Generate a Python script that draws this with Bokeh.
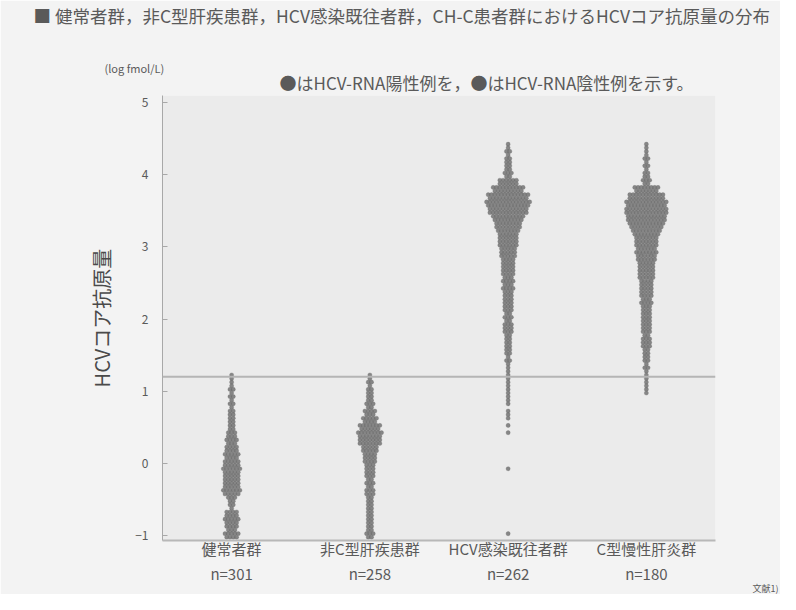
import numpy as np
from bokeh.plotting import figure
from bokeh.models import Span, Title, FixedTicker
from bokeh.embed import file_html
from bokeh.resources import INLINE

# ---------------- data ----------------
title_text = "■ 健常者群，非C型肝疾患群，HCV感染既往者群，CH-C患者群におけるHCVコア抗原量の分布"
note_text = "●はHCV-RNA陽性例を，●はHCV-RNA陰性例を示す。"
unit_text = "(log fmol/L)"
y_title = "HCVコア抗原量"
groups = ["健常者群", "非C型肝疾患群", "HCV感染既往者群", "C型慢性肝炎群"]
group_n = ["n=301", "n=258", "n=262", "n=180"]
y_ticks = [-1, 0, 1, 2, 3, 4, 5]
cutoff = 1.2
source_note = "文献1)"

# log value bins (0.1 steps) and number of dots read in each bin
g1_bins = [1.2, 1.1, 1.0, 0.9, 0.8, 0.7, 0.6, 0.5, 0.4, 0.3, 0.2, 0.1, 0.0,
           -0.1, -0.2, -0.3, -0.4, -0.5, -0.6, -0.7, -0.8, -0.9, -1.0]
g1_counts = [2, 2, 3, 3, 3, 4, 4, 4, 6, 7, 8, 9, 10,
             11, 10, 10, 11, 5, 3, 8, 9, 7, 9]

g2_bins = [1.2, 1.1, 1.0, 0.9, 0.8, 0.7, 0.6, 0.5, 0.4, 0.3, 0.2, 0.1, 0.0,
           -0.1, -0.2, -0.3, -0.4, -0.5, -0.6, -0.7, -0.8, -0.9, -1.0]
g2_counts = [2, 3, 4, 4, 5, 7, 9, 13, 15, 14, 10, 8, 7,
             6, 5, 5, 6, 4, 4, 4, 4, 4, 5]

g3_bins = [4.4, 4.3, 4.2, 4.1, 4.0, 3.9, 3.8, 3.7, 3.6, 3.5, 3.4, 3.3, 3.2, 3.1,
           3.0, 2.9, 2.8, 2.7, 2.6, 2.5, 2.4, 2.3, 2.2, 2.1, 2.0, 1.9, 1.8, 1.7,
           1.6, 1.5, 1.4, 1.3, 1.2, 1.1, 1.0, 0.9, 0.8, 0.7, 0.6, 0.5, 0.4, -0.1, -1.0]
g3_counts = [2, 3, 4, 4, 5, 12, 19, 25, 27, 24, 19, 16, 13, 12,
             11, 10, 8, 8, 7, 7, 7, 6, 6, 5, 5, 6, 5, 4,
             4, 3, 3, 2, 2, 2, 2, 2, 1, 2, 1, 1, 1, 1, 1]

g4_bins = [4.4, 4.3, 4.2, 4.1, 4.0, 3.9, 3.8, 3.7, 3.6, 3.5, 3.4, 3.3, 3.2, 3.1,
           3.0, 2.9, 2.8, 2.7, 2.6, 2.5, 2.4, 2.3, 2.2, 2.1, 2.0, 1.9, 1.8, 1.7,
           1.6, 1.5, 1.4, 1.3, 1.2, 1.1, 1.0]
g4_counts = [2, 2, 3, 3, 4, 5, 15, 22, 25, 26, 24, 21, 17, 14,
             13, 13, 11, 10, 10, 8, 8, 7, 7, 6, 6, 6, 5, 6,
             5, 4, 3, 3, 2, 2, 2]

# ---------------- layout ----------------
X0, X1, Y0, Y1 = 0.0, 4.0, -1.07, 5.1


def swarm(center, bins, counts, dx=0.024, dy=0.025):
    xs, ys = [], []
    for b, n in zip(bins, counts):
        rows = [(n + 1) // 2, n // 2]
        for r, k in enumerate(rows):
            yy = b + dy if r == 0 else b - dy
            for i in range(k):
                xs.append(center + (i - (k - 1) / 2) * dx)
                ys.append(yy)
    return xs, ys


centers = [0.5, 1.5, 2.5, 3.5]
all_bins = [g1_bins, g2_bins, g3_bins, g4_bins]
all_counts = [g1_counts, g2_counts, g3_counts, g4_counts]

FONT = "Noto Sans CJK JP"
TXT = "#5a5a5a"
BORDER = "#f3f3f3"

p = figure(width=780, height=594, x_range=(X0, X1), y_range=(Y0, Y1),
           output_backend="svg", toolbar_location=None,
           min_border_left=162, min_border_right=65,
           min_border_top=95, min_border_bottom=54)
p.background_fill_color = "#ebebeb"
p.border_fill_color = BORDER
p.outline_line_color = None
p.grid.visible = False

# titles stacked above the plot (first added = nearest the plot)
p.add_layout(Title(text=note_text, align="left", offset=117, standoff=1,
                   text_font=FONT, text_font_size="17px", text_color=TXT,
                   text_font_style="normal"), "above")
p.add_layout(Title(text=unit_text, align="left", offset=-58, standoff=-16,
                   text_font=FONT, text_font_size="11px", text_color=TXT,
                   text_font_style="normal"), "above")
# spacer row (drawn in the border colour) between the unit row and the main title
p.add_layout(Title(text=".", align="left", standoff=34, text_color=BORDER,
                   text_font=FONT, text_font_size="2px"), "above")
p.add_layout(Title(text=title_text, align="left", offset=-129, standoff=0,
                   text_font=FONT, text_font_size="17.5px", text_color=TXT,
                   text_font_style="normal"), "above")
p.add_layout(Title(text=source_note, align="right", offset=-63, standoff=-10,
                   vertical_align="top",
                   text_font=FONT, text_font_size="9px", text_color=TXT,
                   text_font_style="normal"), "below")

# y axis
p.yaxis.ticker = FixedTicker(ticks=y_ticks)
p.yaxis.major_tick_in = 5
p.yaxis.major_tick_out = 0
p.yaxis.minor_tick_line_color = None
p.yaxis.axis_line_color = "#a8a8a8"
p.yaxis.major_tick_line_color = "#a8a8a8"
p.yaxis.major_label_text_font = FONT
p.yaxis.major_label_text_font_size = "12px"
p.yaxis.major_label_text_color = TXT
p.yaxis.major_label_standoff = 14
p.yaxis.axis_label = y_title
p.yaxis.axis_label_text_font = FONT
p.yaxis.axis_label_text_font_size = "20px"
p.yaxis.axis_label_text_font_style = "normal"
p.yaxis.axis_label_text_color = "#4a4a4a"
p.yaxis.axis_label_standoff = 16

# x axis: base line plus two-line group labels
p.xaxis.ticker = FixedTicker(ticks=centers)
p.xaxis.major_label_overrides = {c: f"{g}\n{n}" for c, g, n in zip(centers, groups, group_n)}
p.xaxis.axis_line_color = "#b8b8b8"
p.xaxis.axis_line_width = 2
p.xaxis.major_tick_in = 0
p.xaxis.major_tick_out = 0
p.xaxis.major_tick_line_color = None
p.xaxis.minor_tick_line_color = None
p.xaxis.major_label_text_font = FONT
p.xaxis.major_label_text_font_size = "15px"
p.xaxis.major_label_text_color = TXT
p.xaxis.major_label_standoff = -3

# cutoff line
p.add_layout(Span(location=cutoff, dimension="width", line_color="#b5b5b5", line_width=2))

# dots
for c, b, n in zip(centers, all_bins, all_counts):
    xs, ys = swarm(c, b, n)
    p.scatter(xs, ys, size=4.2, fill_color="#747474", fill_alpha=0.85,
              line_color="#606060", line_alpha=0.5, line_width=0.5)

open("out.html", "w").write(file_html(p, INLINE))
